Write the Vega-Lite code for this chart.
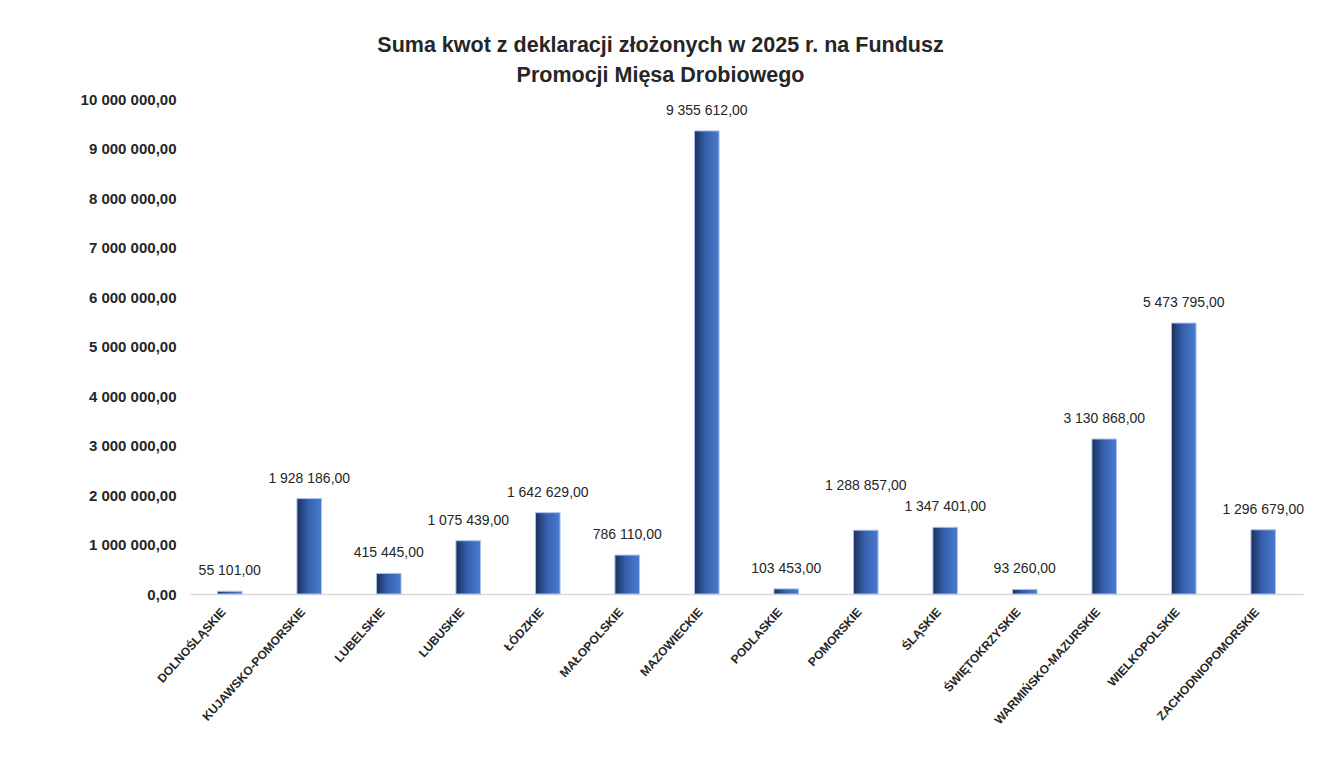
{
  "$schema": "https://vega.github.io/schema/vega-lite/v6.json",
  "autosize": "none",
  "padding": {"left": 190, "top": 99, "right": 16, "bottom": 170},
  "width": 1113,
  "height": 495,
  "background": "white",
  "title": {
    "text": ["Suma kwot z deklaracji złożonych w 2025 r. na Fundusz", "Promocji Mięsa Drobiowego"],
    "anchor": "middle",
    "dx": -86,
    "offset": 6,
    "font": "Liberation Sans",
    "fontSize": 21.5,
    "fontWeight": "bold",
    "color": "#262626",
    "lineHeight": 30
  },
  "config": {
    "locale": {"number": {"decimal": ",", "thousands": " ", "grouping": [3], "currency": ["", ""]}},
    "view": {"stroke": null},
    "font": "Liberation Sans"
  },
  "data": {
    "values": [
      {"region": "DOLNOŚLĄSKIE", "kwota": 55101},
      {"region": "KUJAWSKO-POMORSKIE", "kwota": 1928186},
      {"region": "LUBELSKIE", "kwota": 415445},
      {"region": "LUBUSKIE", "kwota": 1075439},
      {"region": "ŁÓDZKIE", "kwota": 1642629},
      {"region": "MAŁOPOLSKIE", "kwota": 786110},
      {"region": "MAZOWIECKIE", "kwota": 9355612},
      {"region": "PODLASKIE", "kwota": 103453},
      {"region": "POMORSKIE", "kwota": 1288857},
      {"region": "ŚLĄSKIE", "kwota": 1347401},
      {"region": "ŚWIĘTOKRZYSKIE", "kwota": 93260},
      {"region": "WARMIŃSKO-MAZURSKIE", "kwota": 3130868},
      {"region": "WIELKOPOLSKIE", "kwota": 5473795},
      {"region": "ZACHODNIOPOMORSKIE", "kwota": 1296679}
    ]
  },
  "encoding": {
    "x": {
      "field": "region",
      "type": "nominal",
      "sort": null,
      "scale": {"paddingInner": 0.69, "paddingOuter": 0.345},
      "axis": {
        "title": null,
        "labelAngle": -48,
        "labelAlign": "right",
        "labelBaseline": "top",
        "labelFontSize": 12,
        "labelFontWeight": "bold",
        "labelColor": "#262626",
        "labelPadding": 12,
        "labelOffset": -10,
        "ticks": false,
        "domainColor": "#d9d9d9",
        "domainWidth": 1.5,
        "labelOverlap": false,
        "labelLimit": 300
      }
    },
    "y": {
      "field": "kwota",
      "type": "quantitative",
      "scale": {"domain": [0, 10000000]},
      "axis": {
        "title": null,
        "values": [0, 1000000, 2000000, 3000000, 4000000, 5000000, 6000000, 7000000, 8000000, 9000000, 10000000],
        "format": ",.2f",
        "grid": false,
        "domain": false,
        "ticks": false,
        "labelPadding": 14,
        "labelFontSize": 15,
        "labelFontWeight": "bold",
        "labelColor": "#262626"
      }
    }
  },
  "layer": [
    {
      "mark": {
        "type": "bar",
        "color": {
          "gradient": "linear",
          "x1": 0, "y1": 0, "x2": 1, "y2": 0,
          "stops": [
            {"offset": 0, "color": "#1b2f5c"},
            {"offset": 0.45, "color": "#3660ad"},
            {"offset": 1, "color": "#4a7bd0"}
          ]
        },
        "stroke": "#a9c4eb",
        "strokeWidth": 1
      }
    },
    {
      "transform": [{"filter": "datum.region !== 'POMORSKIE'"}],
      "mark": {
        "type": "text",
        "baseline": "bottom",
        "dy": -13,
        "fontSize": 14,
        "color": "#262626"
      },
      "encoding": {
        "text": {"field": "kwota", "type": "quantitative", "format": ",.2f"}
      }
    },
    {
      "transform": [{"filter": "datum.region === 'POMORSKIE'"}],
      "mark": {
        "type": "text",
        "baseline": "bottom",
        "dy": -37,
        "fontSize": 14,
        "color": "#262626"
      },
      "encoding": {
        "text": {"field": "kwota", "type": "quantitative", "format": ",.2f"}
      }
    }
  ]
}
